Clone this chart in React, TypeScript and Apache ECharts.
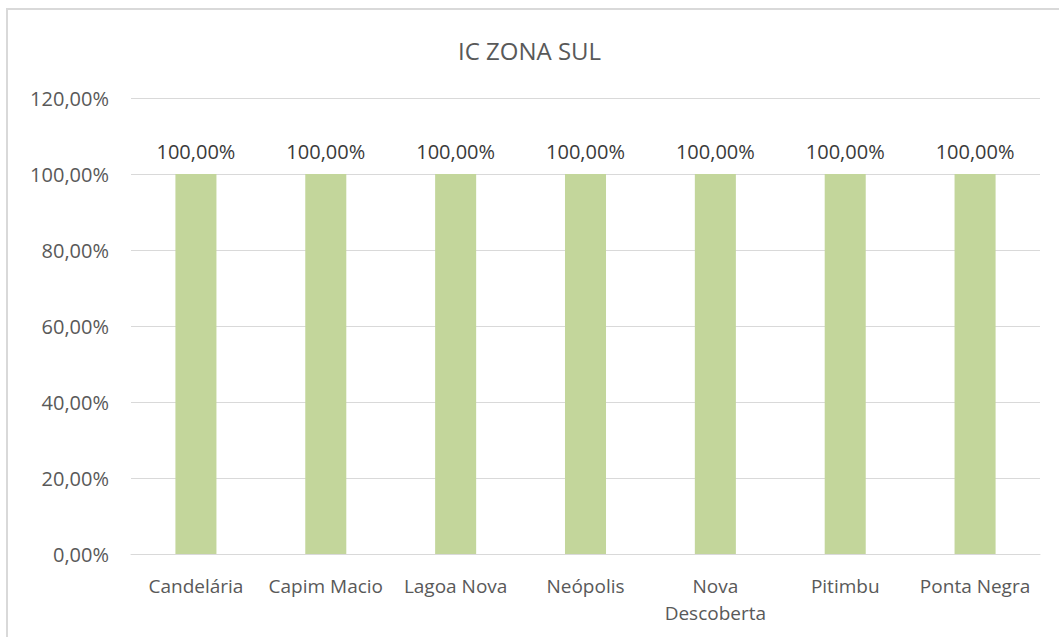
import React, { useEffect, useRef } from "react";
import * as echarts from "echarts";

const categories = ["Candelária", "Capim Macio", "Lagoa Nova", "Neópolis", "Nova\nDescoberta", "Pitimbu", "Ponta Negra"];
const values = [1.0, 1.0, 1.0, 1.0, 1.0, 1.0, 1.0];
const chartTitle = "IC ZONA SUL";

const fmt = (v: number) => (v * 100).toFixed(2).replace(".", ",") + "%";

export default function App() {
  const ref = useRef<HTMLDivElement>(null);
  useEffect(() => {
    if (!ref.current) return;
    const chart = echarts.init(ref.current, null, { renderer: "svg" });
    const font = "'Open Sans', sans-serif";
    chart.setOption({
      animation: false,
      backgroundColor: "#ffffff",
      title: {
        text: chartTitle,
        left: "center",
        top: 33,
        textStyle: { fontFamily: font, fontSize: 24, fontWeight: "normal", color: "#595959" },
      },
      graphic: [
        {
          type: "rect",
          shape: { x: 7, y: 9, width: 1200, height: 800 },
          style: { fill: "none", stroke: "#d9d9d9", lineWidth: 2 },
          silent: true,
        },
      ],
      grid: { left: 131, right: 19, top: 98, bottom: 83, containLabel: false },
      xAxis: {
        type: "category",
        data: categories,
        axisLine: { lineStyle: { color: "#d9d9d9", width: 1 } },
        axisTick: { show: false },
        axisLabel: {
          fontFamily: font,
          fontSize: 19,
          color: "#595959",
          margin: 18,
          lineHeight: 27,
          interval: 0,
        },
      },
      yAxis: {
        type: "value",
        min: 0,
        max: 1.2,
        interval: 0.2,
        axisLine: { show: false },
        axisTick: { show: false },
        splitLine: { lineStyle: { color: "#d9d9d9", width: 1 } },
        axisLabel: {
          fontFamily: font,
          fontSize: 20,
          color: "#595959",
          margin: 22,
          formatter: (v: number) => fmt(v),
        },
      },
      series: [
        {
          type: "bar",
          data: values,
          barWidth: "31.6%",
          itemStyle: { color: "#c3d69b" },
          label: {
            show: true,
            position: "top",
            distance: 13,
            fontFamily: font,
            fontSize: 20,
            fontWeight: "normal",
            color: "#3a3a3a",
            formatter: (p: any) => fmt(p.value),
          },
        },
      ],
    });
    return () => chart.dispose();
  }, []);
  return (
    <div
      ref={ref}
      style={{ position: "fixed", left: 0, top: 0, width: 1059, height: 637 }}
    />
  );
}
